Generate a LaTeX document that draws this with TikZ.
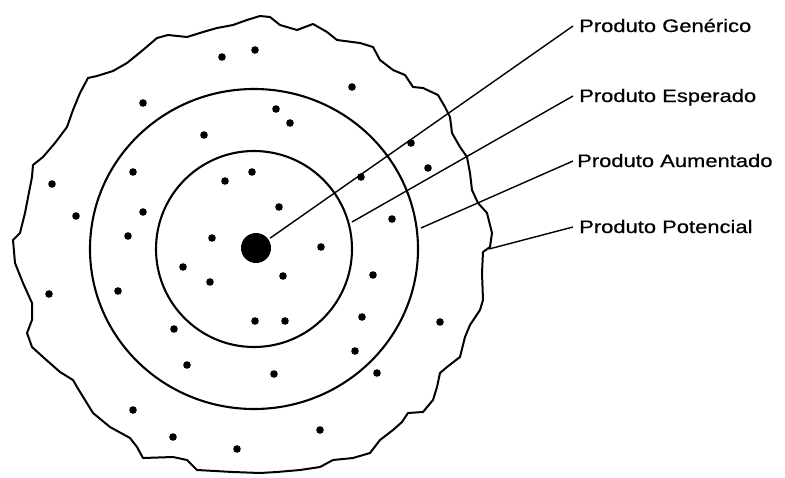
\documentclass[tikz,border=0pt]{standalone}
\usepackage{fontspec}
\usetikzlibrary{positioning, calc}
\newfontfamily\tagfont[FakeStretch=1.22, FakeBold=0.6]{Liberation Sans}

\begin{document}
\begin{tikzpicture}[
  x=1pt, y=-1pt,
  ring/.style={draw=black, line width=2.1pt},
  rim/.style={draw=black, line width=2pt, line join=round},
  speck/.style={fill=black},
  leader/.style={draw=black, line width=1.4pt},
  tag/.style={anchor=base west, inner sep=0pt, text height=12pt, text depth=0pt, font=\tagfont\fontsize{18}{20}\selectfont}
]
  \useasboundingbox (0,0) rectangle (785,477);

  % outer wavy boundary
  \draw[rim] (13,240) -- (20,233) -- (25,213) -- (32,177) -- (33,165) -- (43,157) -- (55,143)
    -- (67,127) -- (73,110) -- (80,93) -- (88,78) -- (97,76) -- (113,71) -- (127,63) -- (143,50)
    -- (157,38) -- (168,35) -- (187,37) -- (203,32) -- (217,28) -- (233,25) -- (247,20) -- (260,16)
    -- (270,17) -- (280,25) -- (297,30) -- (313,24) -- (327,32) -- (337,40) -- (360,43) -- (373,47)
    -- (380,60) -- (393,70) -- (405,75) -- (413,87) -- (423,88) -- (438,95) -- (445,107) -- (450,117)
    -- (452,133) -- (460,147) -- (467,157) -- (470,173) -- (472,190) -- (478,203) -- (487,213)
    -- (492,233) -- (490,247) -- (483,252) -- (482,273) -- (483,300) -- (480,310) -- (470,325)
    -- (465,337) -- (460,357) -- (447,367) -- (440,373) -- (437,387) -- (433,400) -- (423,412)
    -- (408,413) -- (402,422) -- (393,430) -- (380,440) -- (370,453) -- (353,458) -- (333,460)
    -- (320,467) -- (300,470) -- (277,472) -- (260,473) -- (233,472) -- (197,470) -- (187,460)
    -- (173,457) -- (143,458) -- (137,447) -- (130,438) -- (110,427) -- (93,413) -- (77,387)
    -- (73,380) -- (60,372) -- (43,357) -- (32,347) -- (27,333) -- (32,320) -- (32,303) -- (23,283)
    -- (15,263) -- cycle;

  % rings
  \draw[ring] (254,249) ellipse (164 and 160);
  \draw[ring] (254,249) circle (98);

  % core
  \node[circle, fill=black, minimum size=30pt, inner sep=0pt] (core) at (256,248) {};

  % scattered dots
  \foreach \p in {(255,50),(222,57),(352,87),(143,103),(276,109),(290,123),(204,135),
                  (411,143),(428,168),(133,172),(252,172),(225,181),(52,184),(361,177),
                  (279,207),(76,216),(143,212),(392,219),(128,236),(212,238),(321,247),
                  (183,267),(210,282),(283,276),(373,275),(49,294),(118,291),(255,321),
                  (285,321),(362,317),(174,329),(440,322),(355,351),(187,365),(274,374),
                  (377,373),(133,410),(320,430),(173,437),(237,449)}
    \fill[speck] \p circle (3.8);

  % labels
  \node[tag] (gen) at (579,32) {Produto Genérico};
  \node[tag] (esp) at (579,102) {Produto Esperado};
  \node[tag] (aum) at (577,167) {Produto Aumentado};
  \node[tag] (pot) at (579,233) {Produto Potencial};

  \coordinate (espend) at (352,222);
  \coordinate (aumend) at (421,228);
  \coordinate (potend) at (489,249);

  \draw[leader, shorten >=2pt] ([xshift=-6pt]gen.west) -- (core);
  \draw[leader] ([xshift=-6pt]esp.west) -- (espend);
  \draw[leader] ([xshift=-4pt]aum.west) -- (aumend);
  \draw[leader] ([xshift=-6pt]pot.west) -- (potend);
\end{tikzpicture}
\end{document}
